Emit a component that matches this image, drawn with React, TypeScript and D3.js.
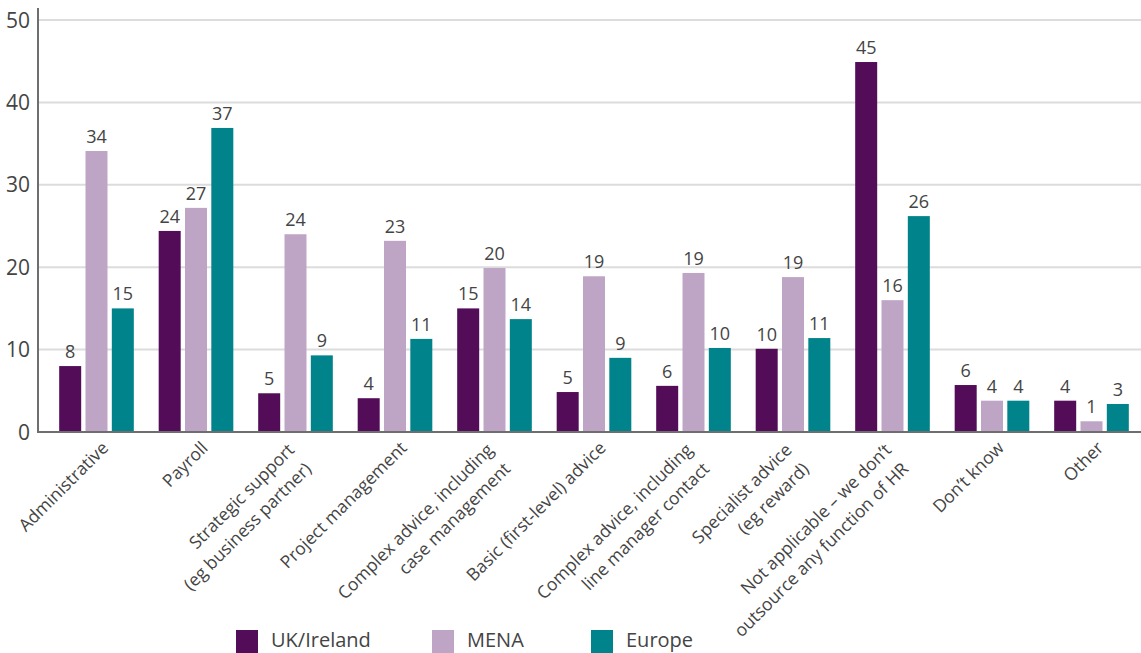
import React from "react";
import * as d3 from "d3";

const categories: string[][] = [
  ["Administrative"],
  ["Payroll"],
  ["Strategic support", "(eg business partner)"],
  ["Project management"],
  ["Complex advice, including", "case management"],
  ["Basic (first-level) advice"],
  ["Complex advice, including", "line manager contact"],
  ["Specialist advice", "(eg reward)"],
  ["Not applicable – we don’t", "outsource any function of HR"],
  ["Don’t know"],
  ["Other"],
];

const seriesNames = ["UK/Ireland", "MENA", "Europe"];
const ukIreland = [8.0, 24.4, 4.7, 4.1, 15.0, 4.85, 5.6, 10.1, 44.9, 5.7, 3.8];
const mena = [34.1, 27.2, 24.0, 23.2, 19.9, 18.9, 19.3, 18.8, 16.0, 3.8, 1.3];
const europe = [15.0, 36.9, 9.3, 11.3, 13.7, 9.0, 10.2, 11.4, 26.2, 3.8, 3.4];
const yTicks = [0, 10, 20, 30, 40, 50];

const colors = ["#520C58", "#BFA5C5", "#00838B"];
const FONT = "'Open Sans', sans-serif";

export default function App() {
  const W = 1141;
  const H = 653;
  const seriesValues = [ukIreland, mena, europe];
  const keys = categories.map((c) => c.join(" "));

  const y = d3.scaleLinear().domain([0, 50]).range([432, 20]);
  const x = d3
    .scaleBand<string>()
    .domain(keys)
    .range([46.75, 1141.25])
    .paddingInner(0.25)
    .paddingOuter(0.125);
  const xs = d3
    .scaleBand<string>()
    .domain(seriesNames)
    .range([0, x.bandwidth()])
    .paddingInner(0.164);

  const axisX = 38;

  return (
    <svg
      width={W}
      height={H}
      style={{ position: "absolute", left: 0, top: 0, background: "#fff" }}
      fontFamily={FONT}
    >
      {/* gridlines */}
      {yTicks
        .filter((t) => t > 0)
        .map((t) => (
          <line
            key={"g" + t}
            x1={axisX}
            x2={W}
            y1={y(t)}
            y2={y(t)}
            stroke="#dcdcdc"
            strokeWidth={2}
          />
        ))}
      {/* y tick labels */}
      {yTicks.map((t) => (
        <text
          key={"t" + t}
          x={30}
          y={y(t)}
          dy="0.36em"
          textAnchor="end"
          fontSize={21}
          fill="#444"
        >
          {t}
        </text>
      ))}
      {/* bars */}
      {keys.map((k, i) => (
        <g key={k} transform={`translate(${x(k)},0)`}>
          {seriesNames.map((s, j) => {
            const v = seriesValues[j][i];
            const bx = xs(s) as number;
            const bw = xs.bandwidth();
            return (
              <g key={s}>
                <rect
                  x={bx}
                  y={y(v)}
                  width={bw}
                  height={y(0) - y(v)}
                  fill={colors[j]}
                />
                <text
                  x={bx + bw / 2}
                  y={y(v) - 8}
                  textAnchor="middle"
                  fontSize={18}
                  fill="#444"
                >
                  {Math.round(v)}
                </text>
              </g>
            );
          })}
        </g>
      ))}
      {/* axes */}
      <line x1={axisX} x2={axisX} y1={8} y2={433} stroke="#6e6e6e" strokeWidth={2} />
      <line x1={axisX - 1} x2={W} y1={432} y2={432} stroke="#6e6e6e" strokeWidth={2} />
      {/* x labels */}
      {categories.map((lines, i) => {
        const cx = (x(keys[i]) as number) + x.bandwidth() / 2;
        const n = lines.length;
        return lines.map((ln, li) => {
          const ax = cx + 13 - 13 * (n - 1) + 17 * li;
          const ay = 449 + 2 * (n - 1) + 19 * li;
          return (
            <text
              key={keys[i] + li}
              transform={`translate(${ax},${ay}) rotate(-45)`}
              textAnchor="end"
              fontSize={17.5}
              fill="#444"
            >
              {ln}
            </text>
          );
        });
      })}
      {/* legend */}
      {seriesNames.map((s, j) => {
        const lx = [236, 432, 591][j];
        return (
          <g key={"l" + s}>
            <rect x={lx} y={630} width={22} height={23} fill={colors[j]} />
            <text x={lx + 35} y={647} fontSize={20} fill="#444">
              {s}
            </text>
          </g>
        );
      })}
    </svg>
  );
}
